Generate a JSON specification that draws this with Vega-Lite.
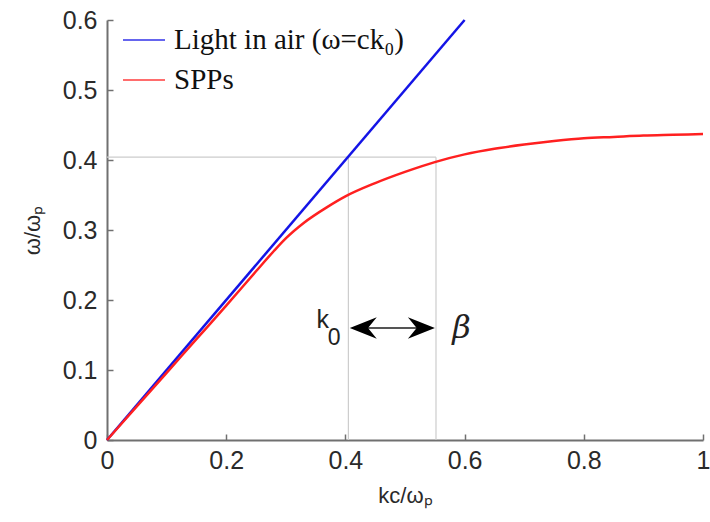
{
  "$schema": "https://vega.github.io/schema/vega-lite/v6.json",
  "width": 596,
  "height": 420,
  "autosize": {"type": "none"},
  "padding": {"left": 107, "top": 20, "right": 7, "bottom": 82},
  "background": "white",
  "config": {
    "view": {"stroke": null},
    "axis": {
      "grid": false,
      "domainColor": "#707070",
      "domainWidth": 2,
      "tickColor": "#707070",
      "tickWidth": 1.5,
      "tickSize": -6,
      "labelFlush": false,
      "labelFont": "Liberation Sans",
      "labelFontSize": 25,
      "labelColor": "#2a2a2a",
      "titleFont": "Liberation Sans",
      "titleFontSize": 22,
      "titleFontWeight": "normal",
      "titleColor": "#2a2a2a"
    }
  },
  "datasets": {
    "lines": [
      {"series": "Light in air (ω=ck₀)", "x": 0, "y": 0},
      {"series": "Light in air (ω=ck₀)", "x": 0.6, "y": 0.6},
      {"series": "SPPs", "x": 0, "y": 0},
      {"series": "SPPs", "x": 0.05, "y": 0.048},
      {"series": "SPPs", "x": 0.1, "y": 0.096},
      {"series": "SPPs", "x": 0.15, "y": 0.144},
      {"series": "SPPs", "x": 0.2, "y": 0.192},
      {"series": "SPPs", "x": 0.25, "y": 0.241},
      {"series": "SPPs", "x": 0.28, "y": 0.27},
      {"series": "SPPs", "x": 0.3, "y": 0.288},
      {"series": "SPPs", "x": 0.33, "y": 0.31},
      {"series": "SPPs", "x": 0.37, "y": 0.333},
      {"series": "SPPs", "x": 0.4, "y": 0.348},
      {"series": "SPPs", "x": 0.45, "y": 0.367},
      {"series": "SPPs", "x": 0.5, "y": 0.383},
      {"series": "SPPs", "x": 0.55, "y": 0.397},
      {"series": "SPPs", "x": 0.6, "y": 0.408},
      {"series": "SPPs", "x": 0.65, "y": 0.416},
      {"series": "SPPs", "x": 0.7, "y": 0.422},
      {"series": "SPPs", "x": 0.75, "y": 0.427},
      {"series": "SPPs", "x": 0.8, "y": 0.431},
      {"series": "SPPs", "x": 0.85, "y": 0.433},
      {"series": "SPPs", "x": 0.9, "y": 0.435},
      {"series": "SPPs", "x": 0.95, "y": 0.436},
      {"series": "SPPs", "x": 1.0, "y": 0.437}
    ],
    "refs": [
      {"x": 0, "x2": 0.552, "y": 0.404, "y2": 0.404},
      {"x": 0.405, "x2": 0.405, "y": 0, "y2": 0.404},
      {"x": 0.552, "x2": 0.552, "y": 0, "y2": 0.404}
    ],
    "arrowShaft": [{"x": 0.43, "x2": 0.5275, "y": 0.16}],
    "arrowHeads": [
      {"x": 0.43, "y": 0.16, "dir": "left"},
      {"x": 0.5275, "y": 0.16, "dir": "right"}
    ],
    "sansLabels": [
      {"label": "k", "x": 0.362, "y": 0.172, "size": 25},
      {"label": "0", "x": 0.381, "y": 0.146, "size": 23}
    ],
    "beta": [{"label": "β", "x": 0.595, "y": 0.16}]
  },
  "layer": [
    {
      "data": {"name": "refs"},
      "mark": {"type": "rule", "color": "#cccccc", "strokeWidth": 1.2},
      "encoding": {
        "x": {"field": "x", "type": "quantitative", "scale": {"domain": [0, 1]}},
        "x2": {"field": "x2"},
        "y": {"field": "y", "type": "quantitative", "scale": {"domain": [0, 0.6]}},
        "y2": {"field": "y2"}
      }
    },
    {
      "data": {"name": "lines"},
      "mark": {"type": "line", "strokeWidth": 2.5, "interpolate": "monotone"},
      "encoding": {
        "x": {
          "field": "x", "type": "quantitative",
          "scale": {"domain": [0, 1]},
          "axis": {"values": [0, 0.2, 0.4, 0.6, 0.8, 1], "format": "~g", "labelPadding": 14, "title": "kc/ωₚ", "titlePadding": 12}
        },
        "y": {
          "field": "y", "type": "quantitative",
          "scale": {"domain": [0, 0.6]},
          "axis": {"values": [0, 0.1, 0.2, 0.3, 0.4, 0.5, 0.6], "format": "~g", "labelPadding": 16, "title": "ω/ωₚ", "titlePadding": 18}
        },
        "color": {
          "field": "series", "type": "nominal",
          "scale": {"domain": ["Light in air (ω=ck₀)", "SPPs"], "range": ["#1414e6", "#ff2020"]},
          "legend": {
            "title": null,
            "orient": "none",
            "legendX": 15,
            "legendY": -2,
            "symbolType": "stroke",
            "symbolSize": 1764,
            "symbolStrokeWidth": 2,
            "symbolOpacity": 0.65,
            "labelFont": "Liberation Serif",
            "labelFontSize": 29,
            "labelColor": "#111111",
            "labelOffset": 8,
            "rowPadding": 3,
            "labelLimit": 400
          }
        },
        "order": {"field": "series", "sort": "descending"}
      }
    },
    {
      "data": {"name": "arrowShaft"},
      "mark": {"type": "rule", "color": "#555555", "strokeWidth": 2},
      "encoding": {
        "x": {"field": "x", "type": "quantitative"},
        "x2": {"field": "x2"},
        "y": {"field": "y", "type": "quantitative"}
      }
    },
    {
      "data": {"name": "arrowHeads"},
      "mark": {"type": "point", "filled": true, "color": "#000000", "opacity": 1, "size": 729},
      "encoding": {
        "x": {"field": "x", "type": "quantitative"},
        "y": {"field": "y", "type": "quantitative"},
        "shape": {
          "field": "dir", "type": "nominal",
          "scale": {"domain": ["left", "right"], "range": ["M -1 0 L 1 -0.8 L 0.35 0 L 1 0.8 Z", "M 1 0 L -1 -0.8 L -0.35 0 L -1 0.8 Z"]},
          "legend": null
        }
      }
    },
    {
      "data": {"name": "sansLabels"},
      "mark": {"type": "text", "font": "Liberation Sans", "color": "#222222"},
      "encoding": {
        "x": {"field": "x", "type": "quantitative"},
        "y": {"field": "y", "type": "quantitative"},
        "text": {"field": "label"},
        "size": {"field": "size", "type": "quantitative", "scale": null}
      }
    },
    {
      "data": {"name": "beta"},
      "mark": {"type": "text", "font": "DejaVu Serif", "fontStyle": "italic", "fontSize": 32, "color": "#222222"},
      "encoding": {
        "x": {"field": "x", "type": "quantitative"},
        "y": {"field": "y", "type": "quantitative"},
        "text": {"field": "label"}
      }
    }
  ]
}
